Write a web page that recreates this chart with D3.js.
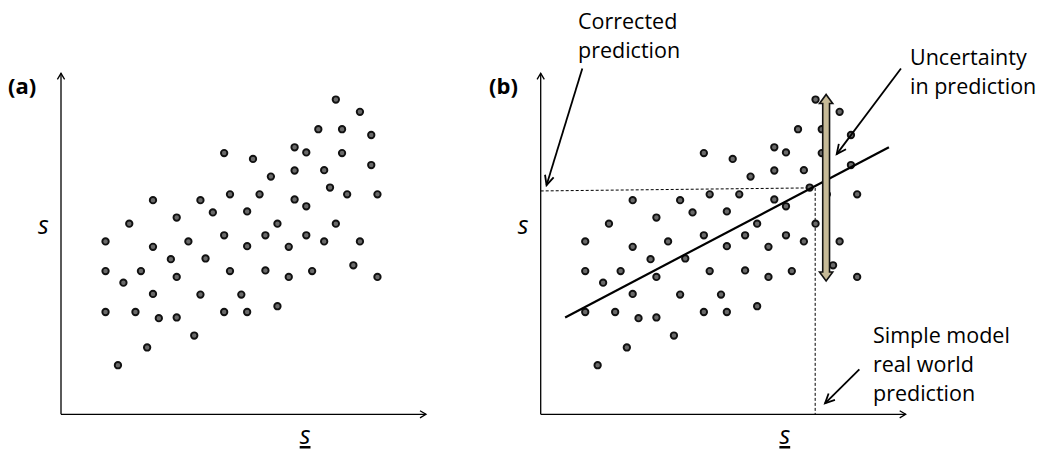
<!DOCTYPE html>
<html><head><meta charset="utf-8">
<script src="https://cdn.jsdelivr.net/npm/d3@7"></script>
<style>
body{margin:0;background:#fff}
text{font-family:"Open Sans",sans-serif;fill:#000}
</style>
</head><body>
<svg id="chart" width="1037" height="451"></svg>
<script>
// ---- data (arbitrary units, 0..100 on both axes) ----
const pointX = [75.3,81.9,70.5,77.0,85.0,64.0,67.2,77.0,44.7,52.6,85.0,64.0,72.1,57.5,73.7,46.3,54.4,78.4,86.7,25.2,38.2,64.0,67.2,41.6,51.0,31.7,18.7,59.3,75.3,12.2,34.9,44.7,56.0,67.2,72.1,81.9,25.2,51.0,62.4,30.1,39.6,12.2,21.9,46.3,56.0,68.8,80.1,17.1,31.7,62.4,86.7,25.2,38.2,49.4,12.2,20.4,26.8,31.7,44.7,51.0,59.3,36.5,23.6,15.6];
const pointY = [92.3,88.7,83.6,83.6,81.9,78.3,76.8,76.6,76.6,74.9,73.1,71.5,71.6,69.7,66.5,64.5,64.5,64.5,64.5,62.8,62.8,63.0,61.0,59.2,59.5,57.7,55.9,55.9,55.9,50.7,50.7,52.5,52.5,52.5,50.7,50.7,49.1,49.3,49.1,45.5,45.7,42.0,42.0,42.0,42.2,42.0,43.7,38.6,40.3,40.3,40.3,35.3,35.1,35.1,30.0,30.0,28.2,28.4,30.0,30.0,31.7,23.1,19.6,14.4];
const fitLineX = [6.7, 95.4];
const fitLineY = [28.4, 78.3];
const correctedX = [0, 74.6];
const correctedY = [65.5, 66.4];
const simpleX = [75.2, 75.2];
const simpleY = [66.4, 0];
const uncertaintyX = 78.2;
const uncertaintyY = [39.1, 93.8];
const panelLabels = ["(a)", "(b)"];
const axisLabel = "s";
const annotations = [
  {lines:["Corrected","prediction"], from:[11.4,101.4], to:[1.6,67.2]},
  {lines:["Uncertainty","in prediction"], from:[98.7,101.4], to:[81.1,76.3]},
  {lines:["Simple model","real world","prediction"], from:[87.3,13.2], to:[77.9,3.2]}
];

// ---- drawing ----
const svg = d3.select("#chart");
const defs = svg.append("defs");
defs.append("marker").attr("id","axHead").attr("viewBox","-8 -5 10 10")
  .attr("refX",0).attr("refY",0).attr("markerWidth",10).attr("markerHeight",10)
  .attr("markerUnits","userSpaceOnUse").attr("orient","auto")
  .append("path").attr("d","M-6,-3.6L0,0L-6,3.6").attr("fill","none")
  .attr("stroke","#000").attr("stroke-width",1.3);
defs.append("marker").attr("id","annHead").attr("viewBox","-12 -6 14 12")
  .attr("refX",0).attr("refY",0).attr("markerWidth",14).attr("markerHeight",12)
  .attr("markerUnits","userSpaceOnUse").attr("orient","auto")
  .append("path").attr("d","M-9.5,-4.5L0,0L-9.5,4.5").attr("fill","none")
  .attr("stroke","#000").attr("stroke-width",1.8);

const panels = [{x0:61, label:panelLabels[0], lx:8}, {x0:540.7, label:panelLabels[1], lx:489}];
const yScale = d3.scaleLinear().domain([0,100]).range([414.3, 73.3]);

panels.forEach((p, i) => {
  const x = d3.scaleLinear().domain([0,100]).range([p.x0, p.x0 + 365]);
  const g = svg.append("g");
  // axes
  g.append("line").attr("x1",x(0)).attr("y1",yScale(0)).attr("x2",x(0)).attr("y2",yScale(100))
    .attr("stroke","#000").attr("stroke-width",1.3).attr("marker-end","url(#axHead)");
  g.append("line").attr("x1",x(0)).attr("y1",yScale(0)).attr("x2",x(100)).attr("y2",yScale(0))
    .attr("stroke","#000").attr("stroke-width",1.3).attr("marker-end","url(#axHead)");
  // labels
  g.append("text").attr("x",p.lx).attr("y",94).attr("font-size",22).attr("font-weight","bold").text(p.label);
  g.append("text").attr("x",x(0)-23).attr("y",234).attr("font-size",25).attr("font-style","italic").text(axisLabel);
  g.append("text").attr("x",x(65.4)).attr("y",444).attr("font-size",25).attr("font-style","italic")
    .attr("text-decoration","underline").text(axisLabel);

  if (i === 1) {
    const line = d3.line().x(d => x(d[0])).y(d => yScale(d[1]));
    g.append("path").attr("d", line(d3.zip(correctedX, correctedY))).attr("fill","none")
      .attr("stroke","#000").attr("stroke-width",1).attr("stroke-dasharray","3,2");
    g.append("path").attr("d", line(d3.zip(simpleX, simpleY))).attr("fill","none")
      .attr("stroke","#000").attr("stroke-width",1).attr("stroke-dasharray","3,2");
  }
  // points
  g.selectAll("circle").data(d3.zip(pointX, pointY)).join("circle")
    .attr("cx", d => x(d[0])).attr("cy", d => yScale(d[1])).attr("r", 3.2)
    .attr("fill","#6a6a6a").attr("stroke","#111").attr("stroke-width",1.9);

  if (i === 1) {
    const line = d3.line().x(d => x(d[0])).y(d => yScale(d[1]));
    g.append("path").attr("d", line(d3.zip(fitLineX, fitLineY))).attr("fill","none")
      .attr("stroke","#000").attr("stroke-width",2.2);
    // uncertainty double arrow
    const cx = x(uncertaintyX), top = yScale(uncertaintyY[1]), bot = yScale(uncertaintyY[0]);
    const sw = 3.4, hw = 6.6, hh = 9;
    const pts = [[cx,top],[cx+hw,top+hh],[cx+sw,top+hh],[cx+sw,bot-hh],[cx+hw,bot-hh],[cx,bot],
                 [cx-hw,bot-hh],[cx-sw,bot-hh],[cx-sw,top+hh],[cx-hw,top+hh]];
    g.append("path").attr("d","M"+pts.map(q=>q.join(",")).join("L")+"Z")
      .attr("fill","#c6ba97").attr("stroke","#111").attr("stroke-width",1.6).attr("stroke-linejoin","miter");
    // annotations
    annotations.forEach(a => {
      g.append("line").attr("x1",x(a.from[0])).attr("y1",yScale(a.from[1]))
        .attr("x2",x(a.to[0])).attr("y2",yScale(a.to[1]))
        .attr("stroke","#000").attr("stroke-width",1.8).attr("marker-end","url(#annHead)");
    });
  }
});

const textPos = [{x:578, y:29}, {x:910, y:65}, {x:873, y:343}];
annotations.forEach((a, k) => {
  const t = svg.append("text").attr("x", textPos[k].x).attr("y", textPos[k].y).attr("font-size", 21.5);
  a.lines.forEach((l, j) => t.append("tspan").attr("x", textPos[k].x).attr("dy", j ? 28.8 : 0).text(l));
});
</script>
</body></html>
